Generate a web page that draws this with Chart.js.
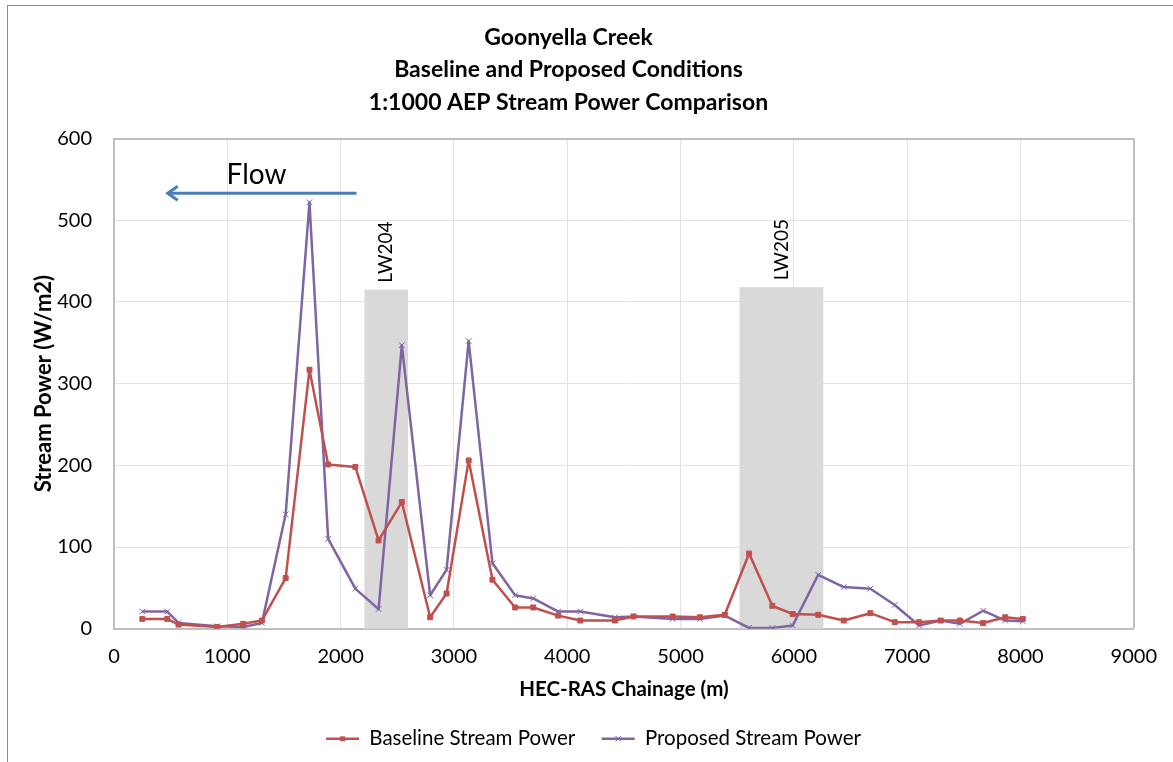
<!DOCTYPE html>
<html>
<head>
<meta charset="utf-8">
<script src="https://cdn.jsdelivr.net/npm/chart.js@4.4.1/dist/chart.umd.min.js"></script>
<style>
  html, body { margin: 0; padding: 0; background: #fff; }
  #wrap { position: relative; width: 1173px; height: 762px; }
  #frame {
    position: absolute; left: 7px; top: 5px; right: -2px; bottom: -2px;
    border-left: 1px solid #8c8c8c; border-top: 1px solid #8c8c8c;
    pointer-events: none;
  }
</style>
</head>
<body>
<div id="wrap">
  <canvas id="chart" width="1173" height="762"></canvas>
  <div id="frame"></div>
</div>
<script>
// Chainage (m) of each HEC-RAS cross section
const chainage = [250, 470, 570, 910, 1140, 1305, 1515, 1725, 1890, 2130, 2335, 2540, 2790, 2935,
  3130, 3340, 3540, 3700, 3920, 4115, 4420, 4585, 4930, 5170, 5390, 5605, 5810, 5990,
  6215, 6440, 6675, 6890, 7105, 7295, 7465, 7670, 7865, 8020];

// Stream power (W/m2)
const baselinePower = [12, 12, 5, 2, 6, 10, 62, 317, 201, 198, 108, 155, 14, 43,
  206, 60, 26, 26, 16, 10, 10, 15, 15, 14, 17, 92, 28, 18,
  17, 10, 19, 8, 8, 10, 10, 7, 14, 12];
const proposedPower = [21, 21, 7, 3, 2, 7, 140, 522, 110, 49, 24, 347, 41, 72,
  352, 80, 41, 37, 21, 21, 14, 15, 12, 12, 16, 1, 1, 4,
  66, 51, 49, 29, 4, 10, 6, 22, 10, 9];

const seriesNames = ['Baseline Stream Power', 'Proposed Stream Power'];
const titleLines = ['Goonyella Creek', 'Baseline and Proposed Conditions', '1:1000 AEP Stream Power Comparison'];

// Longwall panels (shaded)
const longwallNames = ['LW204', 'LW205'];
const longwallStart = [2210, 5520];
const longwallEnd = [2595, 6260];
const longwallTop = [415, 418];

// Flow direction arrow
const flowLabel = 'Flow';
const flowArrowX = [2140, 465];
const flowArrowY = 533;
const flowLabelPos = [1258, 555];

const FONT = "Lato, 'Open Sans', sans-serif";

const toPoints = ys => chainage.map((x, i) => ({ x: x, y: ys[i] }));

// Shaded longwall boxes, labels and the flow arrow
const annotations = {
  id: 'annotations',
  afterLayout(chart) {
    // legend sits a little right of centre in the original
    if (chart.legend) chart.legend.left += 50;
  },
  beforeDatasetsDraw(chart) {
    const { ctx, scales: { x, y } } = chart;
    ctx.save();
    ctx.fillStyle = '#d9d9d9';
    longwallNames.forEach((name, i) => {
      const x0 = x.getPixelForValue(longwallStart[i]);
      const x1 = x.getPixelForValue(longwallEnd[i]);
      const top = y.getPixelForValue(longwallTop[i]);
      ctx.fillRect(x0, top, x1 - x0, y.getPixelForValue(0) - top);
    });
    ctx.restore();
  },
  afterDatasetsDraw(chart) {
    const { ctx, scales: { x, y } } = chart;
    ctx.save();
    // LW labels, rotated
    ctx.fillStyle = '#000';
    ctx.font = '19px ' + FONT;
    ctx.textAlign = 'left';
    ctx.textBaseline = 'middle';
    longwallNames.forEach((name, i) => {
      const cx = x.getPixelForValue((longwallStart[i] + longwallEnd[i]) / 2);
      const top = y.getPixelForValue(longwallTop[i]);
      ctx.save();
      ctx.translate(cx, top - 7);
      ctx.rotate(-Math.PI / 2);
      ctx.fillText(name, 0, 0);
      ctx.restore();
    });

    // Flow arrow
    const ax0 = x.getPixelForValue(flowArrowX[0]);
    const ax1 = x.getPixelForValue(flowArrowX[1]);
    const ay = y.getPixelForValue(flowArrowY);
    ctx.strokeStyle = '#4a7ebb';
    ctx.lineWidth = 3;
    ctx.beginPath();
    ctx.moveTo(ax0, ay);
    ctx.lineTo(ax1 + 2, ay);
    ctx.stroke();
    ctx.beginPath();
    ctx.moveTo(ax1 + 11, ay - 7);
    ctx.lineTo(ax1 + 1, ay);
    ctx.lineTo(ax1 + 11, ay + 7);
    ctx.stroke();

    ctx.fillStyle = '#000';
    ctx.font = '28px ' + FONT;
    ctx.textAlign = 'center';
    ctx.fillText(flowLabel, x.getPixelForValue(flowLabelPos[0]), y.getPixelForValue(flowLabelPos[1]));
    ctx.restore();
  },
  afterDraw(chart) {
    // markers on the legend lines
    const legend = chart.legend;
    if (!legend || !legend.legendHitBoxes) return;
    const ctx = chart.ctx;
    ctx.save();
    legend.legendHitBoxes.forEach((box, i) => {
      const ds = chart.data.datasets[i];
      const cx = box.left + 33 / 2;
      const cy = box.top + box.height / 2;
      ctx.fillStyle = ds.pointBackgroundColor;
      ctx.strokeStyle = ds.pointBorderColor;
      ctx.lineWidth = ds.pointBorderWidth;
      ctx.beginPath();
      if (ds.pointStyle === 'rect') {
        const r = ds.pointRadius;
        ctx.fillRect(cx - r * 0.7, cy - r * 0.7, r * 1.4, r * 1.4);
      } else {
        const r = ds.pointRadius * 0.7;
        ctx.moveTo(cx - r, cy - r); ctx.lineTo(cx + r, cy + r);
        ctx.moveTo(cx + r, cy - r); ctx.lineTo(cx - r, cy + r);
        ctx.stroke();
      }
    });
    ctx.restore();
  }
};

new Chart(document.getElementById('chart'), {
  type: 'line',
  data: {
    datasets: [
      {
        label: seriesNames[0],
        data: toPoints(baselinePower),
        borderColor: '#c0504d',
        backgroundColor: '#c0504d',
        borderWidth: 2.5,
        borderJoinStyle: 'round',
        pointStyle: 'rect',
        pointRadius: 3.5,
        pointBackgroundColor: '#c0504d',
        pointBorderColor: '#c0504d',
        pointBorderWidth: 1,
        tension: 0
      },
      {
        label: seriesNames[1],
        data: toPoints(proposedPower),
        borderColor: '#8064a2',
        backgroundColor: '#8064a2',
        borderWidth: 2.5,
        borderJoinStyle: 'round',
        pointStyle: 'crossRot',
        pointRadius: 4,
        pointBackgroundColor: '#8064a2',
        pointBorderColor: '#8064a2',
        pointBorderWidth: 1,
        tension: 0
      }
    ]
  },
  options: {
    responsive: false,
    animation: false,
    devicePixelRatio: 1,
    layout: { padding: { left: 0, right: 36, top: 0, bottom: 3 } },
    plugins: {
      title: {
        display: true,
        text: titleLines,
        color: '#000',
        font: { family: FONT, size: 23, weight: 'bold', lineHeight: 32.5 / 23 },
        padding: { top: 21, bottom: 20 }
      },
      legend: {
        position: 'bottom',
        labels: {
          color: '#000',
          font: { family: FONT, size: 20.5 },
          usePointStyle: true,
          pointStyle: 'line',
          pointStyleWidth: 33,
          padding: 26.5,
          generateLabels(chart) {
            return chart.data.datasets.map((ds, i) => ({
              text: ds.label,
              fillStyle: ds.borderColor,
              strokeStyle: ds.borderColor,
              lineWidth: 2.5,
              pointStyle: 'line',
              datasetIndex: i,
              hidden: false
            }));
          }
        }
      },
      tooltip: { enabled: false }
    },
    scales: {
      x: {
        type: 'linear',
        min: 0,
        max: 9000,
        afterFit(scale) { scale.height = 73.3; },
        ticks: {
          stepSize: 1000, color: '#000', padding: 16,
          font: { family: FONT, size: 20 },
          callback: v => String(v)
        },
        grid: {
          drawTicks: false,
          color: ctx => ctx.tick && ctx.tick.value === 9000 ? '#bfbfbf' : '#e3e3e3',
          lineWidth: ctx => ctx.tick && ctx.tick.value === 9000 ? 2 : 1
        },
        border: { color: '#bfbfbf', width: 2 },
        title: {
          display: true,
          text: 'HEC-RAS Chainage (m)',
          color: '#000',
          font: { family: FONT, size: 20.5, weight: 'bold' },
          padding: { top: 0, bottom: 0 }
        }
      },
      y: {
        min: 0,
        max: 600,
        afterFit(scale) { scale.width = 114; },
        ticks: {
          stepSize: 100, color: '#000', padding: 22,
          font: { family: FONT, size: 20 },
          callback: v => String(v)
        },
        grid: {
          drawTicks: false,
          color: ctx => ctx.tick && ctx.tick.value === 600 ? '#bfbfbf' : '#e3e3e3',
          lineWidth: ctx => ctx.tick && ctx.tick.value === 600 ? 2 : 1
        },
        border: { color: '#bfbfbf', width: 2 },
        title: {
          display: true,
          text: 'Stream Power (W/m2)',
          color: '#000',
          font: { family: FONT, size: 22, weight: 'bold' },
          padding: { top: 31, bottom: 0 }
        }
      }
    }
  },
  plugins: [annotations]
});
</script>
</body>
</html>
